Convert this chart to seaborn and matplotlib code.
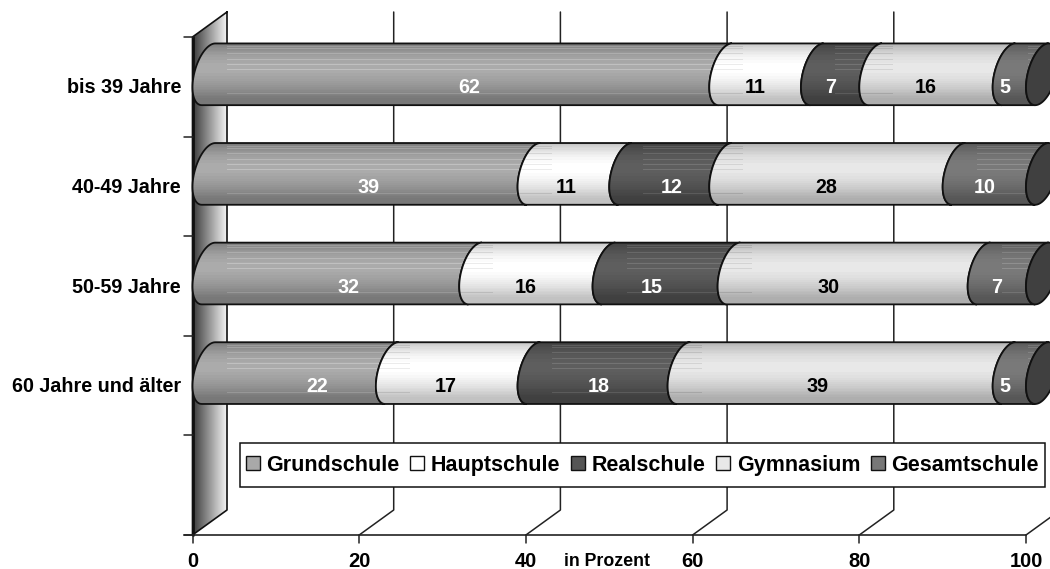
import numpy as np
import pandas as pd
import matplotlib
matplotlib.use("Agg")
import matplotlib.pyplot as plt
import seaborn as sns
from matplotlib.patches import Patch, Polygon, Rectangle
from matplotlib.path import Path

sns.set_theme(style="white")
plt.rcParams["font.family"] = ["Liberation Sans", "DejaVu Sans"]
plt.rcParams["font.weight"] = "bold"
plt.rcParams["text.color"] = "black"

ages = ["bis 39 Jahre", "40-49 Jahre", "50-59 Jahre", "60 Jahre und älter"]
schools = ["Grundschule", "Hauptschule", "Realschule", "Gymnasium", "Gesamtschule"]
grund = [62, 39, 32, 22]
haupt = [11, 11, 16, 17]
real = [7, 12, 15, 18]
gym = [16, 28, 30, 39]
gesamt = [5, 10, 7, 5]
x_ticks = [0, 20, 40, 60, 80, 100]

W, H = 1050, 569
X0, X100 = 192.5, 1026.0
TOP, BOTTOM = 37.0, 535.0
DX, DY = 34.5, 25.0

# shading per school: edge grey, middle grey, legend colour, label colour
base_cols = ["#a9a9a9", "#ffffff", "#555555", "#e8e8e8", "#777777"]
edge_grey = [0.47, 0.76, 0.25, 0.68, 0.34]
mid_grey = [0.67, 1.00, 0.37, 0.91, 0.48]
text_cols = ["white", "black", "white", "black", "white"]
# label shift in pixels, the left most labels sit off centre
nudge = [[18, 0, 0, 0, -4], [14, 3, 12, 0, 0], [23, 0, -3, -14, 0], [33, -1, 6, -13, -4]]
streaks = [3, 5, 10, 16, 21, 26, 50]

fig = plt.figure(figsize=(W / 100, H / 100), dpi=100, facecolor="white")

back = fig.add_axes([0, 0, 1, 1], zorder=0)
front = fig.add_axes([0, 0, 1, 1], zorder=2)
for a in (back, front):
    a.set_xlim(0, W)
    a.set_ylim(H, 0)
    a.axis("off")
    a.patch.set_alpha(0)

# seaborn axes sits half a depth behind the front axis
ax_top = TOP - DY / 2
ax_bot = BOTTOM - DY / 2
ax = fig.add_axes([X0 / W, 1 - ax_bot / H, (X100 - X0) / W, (ax_bot - ax_top) / H], zorder=1)
ax.patch.set_alpha(0)

values = np.array([grund, haupt, real, gym, gesamt], dtype=float)
cum = np.minimum(np.cumsum(values, axis=0), 100)
order = ages + [" "]
for i in range(4, -1, -1):
    df = pd.DataFrame({"age": ages, "share": cum[i]})
    sns.barplot(data=df, y="age", x="share", order=order, color=base_cols[i],
                width=0.62, errorbar=None, saturation=1, ax=ax, zorder=1)
ax.set_xlim(0, 100)
ax.set_ylim(4.5, -0.5)
ax.axis("off")

# wall
wall = Polygon([(X0, TOP), (X0 + DX, TOP - DY), (X0 + DX, BOTTOM - DY), (X0, BOTTOM)],
               closed=True, fc="none", ec="none")
back.add_patch(wall)
grad = np.linspace(0.22, 0.97, 64).reshape(1, -1) ** 0.95
im = back.imshow(grad, cmap="gray", vmin=0, vmax=1, aspect="auto", interpolation="bilinear",
                 extent=(X0, X0 + DX, BOTTOM, TOP - DY), zorder=1)
im.set_clip_path(wall)
back.plot([X0 + DX, X0, X0, X0 + DX, X0 + DX], [TOP - DY, TOP, BOTTOM, BOTTOM - DY, TOP - DY],
          color="#111111", lw=1.2, zorder=2)
back.plot([X0, X0], [TOP, BOTTOM], color="#111111", lw=2, zorder=2)

# axis lines, ticks, grid
rows = np.linspace(TOP, BOTTOM, 6)
for r in rows:
    back.plot([184, X0], [r, r], color="#222222", lw=1.1, zorder=2)
back.plot([184, X100], [BOTTOM, BOTTOM], color="#222222", lw=1.2, zorder=2)
for t in x_ticks:
    px = X0 + (X100 - X0) * t / 100
    back.plot([px, px], [BOTTOM, BOTTOM + 8], color="#222222", lw=1.1, zorder=2)
    back.text(px, 561.5, str(t), ha="center", va="center", fontsize=14.5, color="black")
    if t > 0:
        back.plot([px, px + DX, px + DX], [BOTTOM, BOTTOM - DY, TOP - DY], color="#222222",
                  lw=1.1, zorder=1, clip_on=True)
back.text(607, 561, "in Prozent", ha="center", va="center", fontsize=12.8, color="black")

# cylinder end shape
ell_a, ell_b, ell_s = 16.0, 28.0, 13.0
t_top = -np.arctan(ell_b / ell_s)
t_bot = np.pi - np.arctan(ell_b / ell_s) - 2 * np.pi
arc_t = np.linspace(t_top, t_bot, 40)


def arc(x, yc):
    return np.column_stack([x + ell_a + ell_a * np.cos(arc_t),
                            yc + ell_b * np.sin(arc_t) - ell_s * np.cos(arc_t)])


def to_px(x, y):
    d = ax.transData.transform((x, y))
    return front.transData.inverted().transform(d)


def shade(i, rows_n, col_n, light_left):
    t = np.linspace(0, 1, rows_n)
    prof = np.sin(np.pi * np.clip(t / 0.9, 0, 1) ** 0.85)
    prof = np.round(prof * 14) / 14
    g = edge_grey[i] + (mid_grey[i] - edge_grey[i]) * prof
    img = np.tile(g.reshape(-1, 1), (1, col_n))
    hi = 0.08 if i in (0, 2, 4) else -0.08
    cut = 34
    for s in streaks:
        if s < rows_n:
            if light_left:
                img[s, :cut] = np.clip(img[s, :cut] + hi, 0, 1)
            else:
                img[s, cut:] = np.clip(img[s, cut:] + hi, 0, 1)
    return img


n_rows = len(ages)
ax.figure.canvas.draw()
bars = {}
for k, cont in enumerate(ax.containers):
    i = 4 - k
    bars[i] = [b for b in cont.patches if b.get_width() > 0][:n_rows]

for r in range(n_rows):
    start = 0.0
    for i in range(5):
        rect = bars[i][r]
        x_end, yc = to_px(rect.get_width(), rect.get_y() + rect.get_height() / 2)
        x_start, _ = to_px(start, 0)
        _, y_top = to_px(0, rect.get_y())
        _, y_bot = to_px(0, rect.get_y() + rect.get_height())
        yc = (y_top + y_bot) / 2
        outline = np.vstack([arc(x_start, yc), arc(x_end, yc)[::-1]])
        poly = Polygon(outline, closed=True, fc="none", ec="none")
        front.add_patch(poly)
        rect.set_clip_path(Path(outline), front.transData)
        x0i, x1i = x_start, x_end + 2 * ell_a
        y0i, y1i = y_top, y_bot
        nr, nc = int(round(y1i - y0i)), max(int(round(x1i - x0i)), 2)
        img = shade(i, nr, nc, i in (1, 3))
        im = front.imshow(img, cmap="gray", vmin=0, vmax=1, aspect="auto",
                          interpolation="nearest", extent=(x0i, x1i, y1i, y0i),
                          zorder=2 + i * 0.1)
        im.set_clip_path(poly)
        front.add_patch(Polygon(outline, closed=True, fc="none", ec="#111111", lw=1.3,
                                zorder=2.05 + i * 0.1))
        lx = (x_start + x_end) / 2 + nudge[r][i]
        front.text(lx, yc + 13.5, f"{int(values[i][r])}", ha="center", va="center",
                   fontsize=14.2, color=text_cols[i], zorder=5)
        start = rect.get_width()
    # dark end cap at 100
    x_end, _ = to_px(100, 0)
    cap = np.column_stack([x_end + ell_a + ell_a * np.cos(np.linspace(0, 2 * np.pi, 80)),
                           yc + ell_b * np.sin(np.linspace(0, 2 * np.pi, 80))
                           - ell_s * np.cos(np.linspace(0, 2 * np.pi, 80))])
    front.add_patch(Polygon(cap, closed=True, fc="#404040", ec="#111111", lw=1.3, zorder=3))
    back.text(181, yc + 13.5, ages[r], ha="right", va="center", fontsize=14.2, color="black")

# legend box, drawn apart so the padding can differ from the label size
front.add_patch(Rectangle((239.5, 443), 805.5, 44, fc="white", ec="#111111", lw=1.1, zorder=5.5))
handles = [Patch(fc=c, ec="#111111", lw=1.0) for c in base_cols]
leg = front.legend(handles, schools, ncol=5, loc="center", bbox_to_anchor=(642.5, 465),
                   bbox_transform=front.transData, frameon=False, fontsize=15.5,
                   labelcolor="black", handlelength=0.65, handleheight=0.65,
                   handletextpad=0.3, columnspacing=0.5, borderpad=0, borderaxespad=0)
leg.set_zorder(6)

fig.savefig("out.png", dpi=100)
